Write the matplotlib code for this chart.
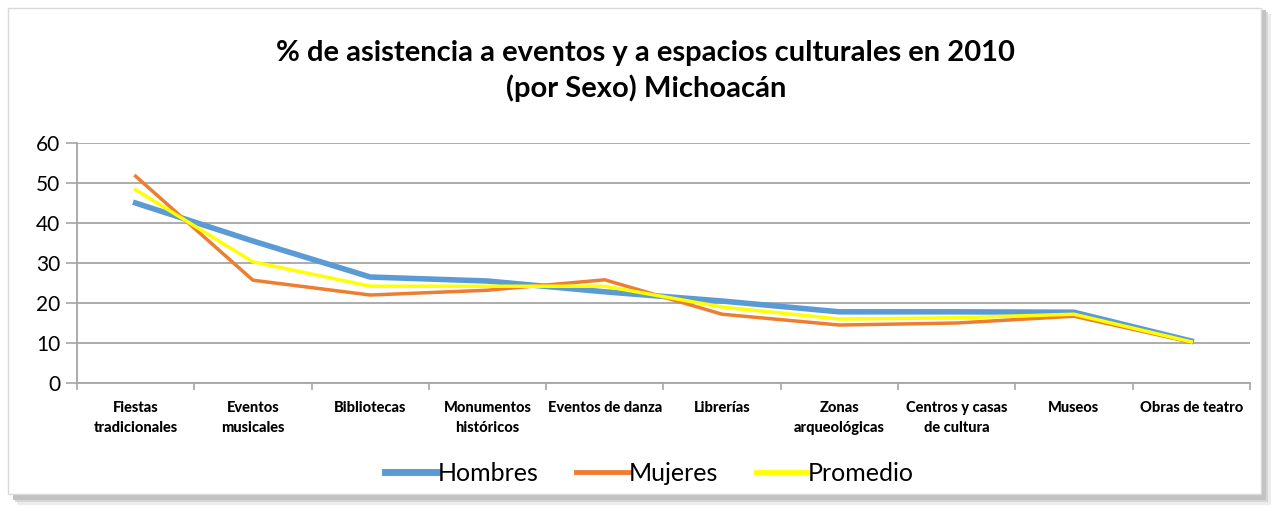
import matplotlib
matplotlib.use("Agg")
import matplotlib.pyplot as plt
from matplotlib.patches import Rectangle

categories = [
    "Fiestas\ntradicionales", "Eventos\nmusicales", "Bibliotecas",
    "Monumentos\nhistóricos", "Eventos de danza", "Librerías",
    "Zonas\narqueológicas", "Centros y casas\nde cultura", "Museos",
    "Obras de teatro",
]
hombres = [45.0, 35.5, 26.5, 25.5, 22.8, 20.5, 17.8, 17.8, 17.7, 10.5]
mujeres = [51.7, 25.7, 22.0, 23.2, 25.8, 17.2, 14.5, 15.0, 16.7, 10.2]
promedio = [48.3, 30.3, 24.2, 24.2, 24.2, 19.0, 16.0, 16.3, 17.2, 10.3]
y_ticks = [0, 10, 20, 30, 40, 50, 60]

plt.rcParams["font.family"] = ["Lato", "DejaVu Sans"]


def frame(fig):
    """light border with a soft shadow, like the spreadsheet chart box"""
    for i, c in enumerate(["#ececec", "#d6d6d6", "#c2c2c2"]):
        off = (3 - i) * 0.0018
        fig.patches.append(Rectangle((0.008 + off, 0.02 - off * 2.5), 0.98, 0.965,
                                     transform=fig.transFigure, facecolor=c,
                                     edgecolor="none", zorder=-5 + i))
    fig.patches.append(Rectangle((0.006, 0.027), 0.98, 0.958,
                                 transform=fig.transFigure, facecolor="white",
                                 edgecolor="#d9d9d9", linewidth=1.0, zorder=-1))


def plot():
    fig = plt.figure(figsize=(12.79, 5.08), dpi=100)
    frame(fig)
    ax = fig.add_axes([0.0602, 0.246, 0.917, 0.4725])
    ax.set_facecolor("none")
    x = list(range(len(categories)))

    ax.plot(x, hombres, color="#5B9BD5", linewidth=4.0, label="Hombres",
            solid_joinstyle="round", zorder=3)
    ax.plot(x, mujeres, color="#ED7D31", linewidth=2.5, label="Mujeres",
            solid_joinstyle="round", zorder=4)
    ax.plot(x, promedio, color="#FFFF00", linewidth=2.5, label="Promedio",
            solid_joinstyle="round", zorder=5)

    ax.set_ylim(0, 60)
    ax.set_xlim(-0.5, len(categories) - 0.5)
    ax.set_yticks(y_ticks)
    ax.yaxis.grid(True, color="#a6a6a6", linewidth=1.3)
    ax.set_axisbelow(True)
    ax.tick_params(axis="y", labelsize=15, length=8, color="#a6a6a6", width=1.2,
                   pad=4)

    ax.set_xticks(x)
    ax.set_xticklabels(categories, fontsize=10.5, fontweight="black",
                       linespacing=1.5, va="top")
    ax.tick_params(axis="x", which="major", length=0, pad=13)
    ax.set_xticks([i - 0.5 for i in range(len(categories) + 1)], minor=True)
    ax.tick_params(axis="x", which="minor", length=5, color="#a6a6a6", width=1.2)

    for side in ["top", "right"]:
        ax.spines[side].set_visible(False)
    for side in ["left", "bottom"]:
        ax.spines[side].set_color("#a6a6a6")
        ax.spines[side].set_linewidth(1.3)

    fig.text(0.505, 0.86, "% de asistencia a eventos y a espacios culturales en 2010\n"
             "(por Sexo) Michoacán", ha="center", va="center", fontsize=21,
             fontweight="bold", linespacing=1.35)

    leg = fig.legend(loc="center", bbox_to_anchor=(0.508, 0.068), ncol=3,
                     frameon=False, fontsize=18, handlelength=2.1,
                     handletextpad=0.0, columnspacing=1.5)
    for line in leg.get_lines():
        line.set_linewidth(line.get_linewidth() + 1.0)

    fig.savefig("out.png", dpi=100)


def main():
    plot()


if __name__ == "__main__":
    main()
